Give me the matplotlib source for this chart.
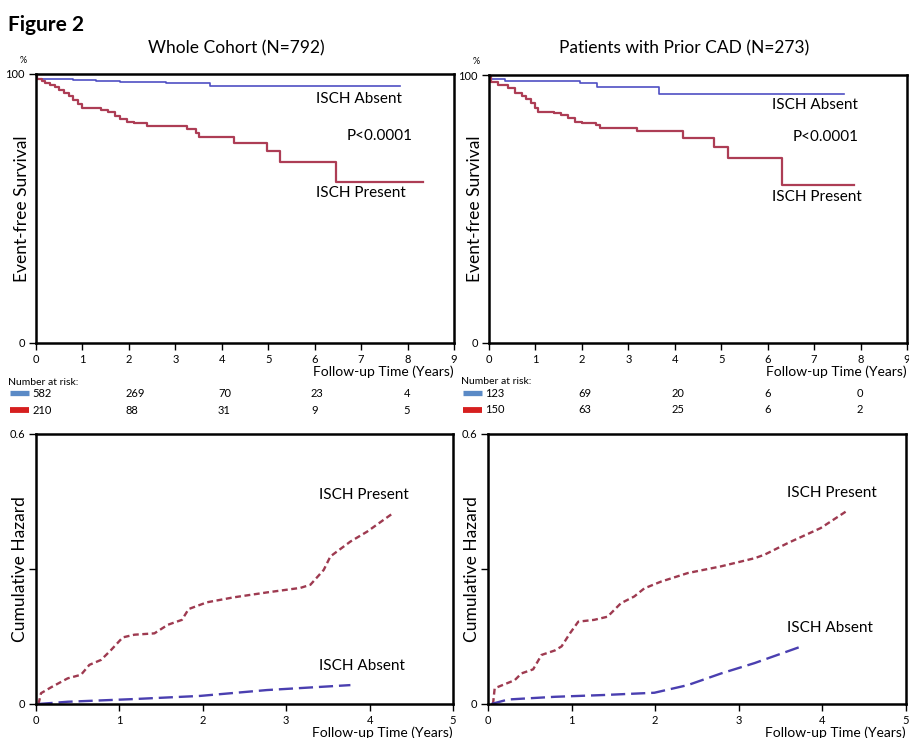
import numpy as np
import matplotlib.pyplot as plt
from matplotlib.transforms import blended_transform_factory

plt.rcParams['font.family'] = ['Lato', 'DejaVu Sans']

# Kaplan-Meier curves (years, % event-free)
whole_abs_t = [0, 0.3, 0.8, 1.3, 1.8, 2.2, 2.8, 3.75, 7.84]
whole_abs_s = [98.3, 98.0, 97.8, 97.5, 97.2, 96.9, 96.7, 95.6, 95.6]
whole_pre_t = [0, 0.03, 0.12, 0.2, 0.3, 0.4, 0.5, 0.6, 0.7, 0.8, 0.9, 1.0, 1.4, 1.55, 1.7,
               1.8, 1.95, 2.1, 2.4, 3.25, 3.45, 3.52, 4.27, 4.97, 5.25, 6.47, 8.34]
whole_pre_s = [100, 98.2, 97.3, 96.5, 95.8, 95.0, 94.0, 93.0, 92.0, 90.5, 89.0, 87.5, 86.5, 85.8, 84.5,
               83.2, 82.3, 81.7, 80.6, 79.5, 78.0, 76.4, 74.3, 71.2, 67.2, 59.8, 59.8]

cad_abs_t = [0, 0.34, 1.96, 2.32, 3.66, 7.65]
cad_abs_s = [98.5, 97.8, 96.9, 95.7, 92.9, 92.9]
cad_pre_t = [0, 0.05, 0.2, 0.4, 0.55, 0.7, 0.8, 0.9, 0.98, 1.05, 1.4, 1.55, 1.7, 1.85, 2.0,
             2.3, 2.4, 3.19, 4.17, 4.85, 5.15, 6.31, 7.86]
cad_pre_s = [100, 97.5, 96.3, 95.0, 93.2, 92.0, 91.0, 89.4, 87.6, 86.3, 85.8, 85.1, 83.9, 82.6, 82.0,
             81.4, 80.4, 79.2, 76.6, 73.3, 69.2, 59.0, 59.0]

# number at risk
risk_times = [0, 2, 4, 6, 8]
whole_risk_abs = [582, 269, 70, 23, 4]
whole_risk_pre = [210, 88, 31, 9, 5]
cad_risk_abs = [123, 69, 20, 6, 0]
cad_risk_pre = [150, 63, 25, 6, 2]

# cumulative hazard curves
whole_hz_pre_t = [0.03, 0.06, 0.18, 0.38, 0.54, 0.64, 0.78, 0.9, 1.04, 1.18, 1.42, 1.58, 1.75, 1.83,
                  2.05, 2.37, 2.77, 3.17, 3.29, 3.45, 3.53, 3.77, 3.97, 4.28]
whole_hz_pre_h = [0, 0.024, 0.037, 0.057, 0.065, 0.087, 0.098, 0.12, 0.148, 0.154, 0.157, 0.176, 0.187, 0.211,
                  0.226, 0.237, 0.248, 0.258, 0.265, 0.298, 0.328, 0.361, 0.383, 0.424]
whole_hz_abs_t = [0.03, 0.38, 1.18, 1.97, 2.77, 3.77]
whole_hz_abs_h = [0, 0.005, 0.011, 0.018, 0.031, 0.042]

cad_hz_pre_t = [0.06, 0.08, 0.32, 0.4, 0.54, 0.64, 0.8, 0.88, 0.98, 1.08, 1.27, 1.43, 1.59, 1.75, 1.87,
                2.07, 2.39, 2.79, 3.19, 3.31, 3.59, 3.98, 4.3]
cad_hz_pre_h = [0, 0.035, 0.053, 0.068, 0.077, 0.109, 0.119, 0.128, 0.157, 0.183, 0.187, 0.194, 0.224, 0.239,
                0.257, 0.272, 0.291, 0.306, 0.324, 0.332, 0.358, 0.391, 0.43]
cad_hz_abs_t = [0.04, 0.24, 0.8, 1.39, 1.99, 2.39, 2.79, 3.19, 3.78]
cad_hz_abs_h = [0, 0.010, 0.016, 0.02, 0.025, 0.042, 0.068, 0.091, 0.13]

blue = '#4f4fc4'
red = '#ad3d55'
W, H = 909, 738

fig = plt.figure(figsize=(W / 100, H / 100), dpi=100)


def px_axes(left, top, right, bottom):
    return fig.add_axes([left / W, 1 - bottom / H, (right - left) / W, (bottom - top) / H])


def frame(ax):
    for s in ax.spines.values():
        s.set_linewidth(1.8)
    ax.tick_params(direction='out', length=5, width=1, labelsize=8, pad=3)


def km_panel(ax, abs_t, abs_s, pre_t, pre_s, pos):
    ax.step(abs_t, abs_s, where='post', color=blue, lw=1.2)
    ax.step(pre_t, pre_s, where='post', color=red, lw=1.6)
    ax.set_xlim(0, 9)
    ax.set_ylim(0, 100)
    ax.set_xticks(range(10))
    ax.set_yticks([0, 100])
    frame(ax)
    ax.set_ylabel('Event-free Survival', fontsize=12.5)
    ax.yaxis.set_label_coords(-0.014, 0.5)
    ax.text(-0.03, 1.04, '%', transform=ax.transAxes, fontsize=6.5, ha='center')
    ax.text(1.0, -0.107, 'Follow-up Time (Years)', transform=ax.transAxes, fontsize=10,
            ha='right', va='center')
    ax.text(pos[0], pos[1], 'ISCH Absent', transform=ax.transAxes, fontsize=11, va='center')
    ax.text(pos[2], pos[3], 'P<0.0001', transform=ax.transAxes, fontsize=11, va='center')
    ax.text(pos[0], pos[4], 'ISCH Present', transform=ax.transAxes, fontsize=11, va='center')


def risk_table(ax, risk_abs, risk_pre):
    tr = blended_transform_factory(ax.transData, ax.transAxes)
    ax.text(-0.6, -0.145, 'Number at risk:', transform=tr, fontsize=7.5, va='center')
    for i, t in enumerate(risk_times):
        ax.text(t - 0.08, -0.187, str(risk_abs[i]), transform=tr, fontsize=8, va='center')
        ax.text(t - 0.08, -0.25, str(risk_pre[i]), transform=tr, fontsize=8, va='center')
    ax.plot([-0.55, -0.16], [-0.187, -0.187], transform=tr, color='#5a8ac6', lw=3.8,
            clip_on=False, solid_capstyle='butt')
    ax.plot([-0.55, -0.16], [-0.25, -0.25], transform=tr, color='#d61f1f', lw=4.2,
            clip_on=False, solid_capstyle='butt')


def hz_panel(ax, pre_t, pre_h, abs_t, abs_h, pos):
    ax.plot(pre_t, pre_h, color='#9e3a50', lw=1.7, dashes=(2.5, 1.5))
    ax.plot(abs_t, abs_h, color='#4a3fb0', lw=1.7, dashes=(6, 2.5))
    ax.set_xlim(0, 5)
    ax.set_ylim(0, 0.6)
    ax.set_xticks(range(6))
    ax.set_yticks([0, 0.3, 0.6])
    ax.set_yticklabels(['0', '', '0.6'])
    frame(ax)
    ax.set_ylabel('Cumulative Hazard', fontsize=12.5)
    ax.yaxis.set_label_coords(-0.02, 0.5)
    ax.text(1.0, -0.105, 'Follow-up Time (Years)', transform=ax.transAxes, fontsize=10,
            ha='right', va='center')
    ax.text(pos[0], pos[1], 'ISCH Present', transform=ax.transAxes, fontsize=11, va='center')
    ax.text(pos[0], pos[2], 'ISCH Absent', transform=ax.transAxes, fontsize=11, va='center')


ax1 = px_axes(36, 74, 454, 343)
km_panel(ax1, whole_abs_t, whole_abs_s, whole_pre_t, whole_pre_s, (0.67, 0.907, 0.742, 0.77, 0.558))
risk_table(ax1, whole_risk_abs, whole_risk_pre)

ax2 = px_axes(489, 75, 907, 343)
km_panel(ax2, cad_abs_t, cad_abs_s, cad_pre_t, cad_pre_s, (0.677, 0.888, 0.727, 0.769, 0.545))
risk_table(ax2, cad_risk_abs, cad_risk_pre)

ax3 = px_axes(36, 434, 453, 704)
hz_panel(ax3, whole_hz_pre_t, whole_hz_pre_h, whole_hz_abs_t, whole_hz_abs_h, (0.679, 0.774, 0.141))

ax4 = px_axes(488, 434, 906, 704)
hz_panel(ax4, cad_hz_pre_t, cad_hz_pre_h, cad_hz_abs_t, cad_hz_abs_h, (0.715, 0.781, 0.281))

fig.text(8 / W, 1 - 25 / H, 'Figure 2', fontsize=15, fontweight='bold', va='center')
fig.text(236 / W, 1 - 48 / H, 'Whole Cohort (N=792)', fontsize=12.5, ha='center', va='center')
fig.text(684 / W, 1 - 48 / H, 'Patients with Prior CAD (N=273)', fontsize=12.5, ha='center', va='center')

fig.savefig('out.png', dpi=100)
